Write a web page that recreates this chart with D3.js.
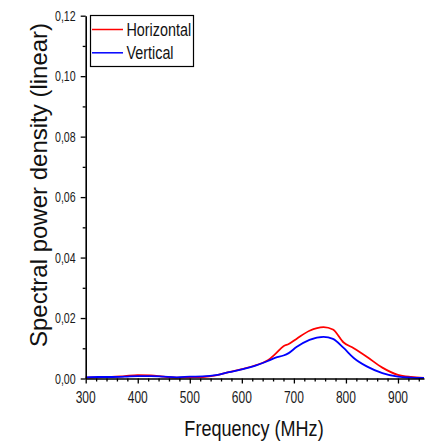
<!DOCTYPE html>
<html>
<head>
<meta charset="utf-8">
<script src="https://cdn.jsdelivr.net/npm/d3@7"></script>
<style>
  html, body { margin: 0; padding: 0; background: #fff; }
  svg { display: block; }
</style>
</head>
<body>
<svg id="chart" width="427" height="442"></svg>
<script>
// ---- data ----
const freq = [300, 325, 350, 375, 400, 425, 450, 475, 500, 525, 550, 575, 600, 625, 650, 665, 680, 690, 705, 730, 757, 775, 795, 815, 840, 870, 900, 925, 950];
const horizontal = [0.0003, 0.0004, 0.0005, 0.0008, 0.0011, 0.0010, 0.0006, 0.0003, 0.0004, 0.0005, 0.0010, 0.0021, 0.0031, 0.0043, 0.0060, 0.0082, 0.0107, 0.0114, 0.0131, 0.0158, 0.0170, 0.0162, 0.0120, 0.0100, 0.0072, 0.0036, 0.0012, 0.0005, 0.0002];
const vertical = [0.0004, 0.0005, 0.0005, 0.0006, 0.0008, 0.0008, 0.0006, 0.0004, 0.0006, 0.0007, 0.0011, 0.0021, 0.0030, 0.0042, 0.0058, 0.0069, 0.0076, 0.0084, 0.0104, 0.0128, 0.0138, 0.0131, 0.0102, 0.0068, 0.0040, 0.0018, 0.0006, 0.0003, 0.0002];
const seriesNames = ["Horizontal", "Vertical"];
const seriesColors = ["#ff0000", "#0000ff"];
const xTicks = [300, 400, 500, 600, 700, 800, 900];
const yTicks = [0, 0.02, 0.04, 0.06, 0.08, 0.10, 0.12];
const xTitle = "Frequency (MHz)";
const yTitle = "Spectral power density (linear)";

const FONT = "'Liberation Sans', Arial, sans-serif";
const svg = d3.select("#chart");
const x = d3.scaleLinear().domain([300, 950]).range([85.7, 424]);
const y = d3.scaleLinear().domain([0, 0.12]).range([378.5, 15.7]);

const fmtY = v => d3.format(".2f")(v).replace(".", ",");

// curves
const series = [horizontal, vertical];
const line = d3.line().x(d => x(d[0])).y(d => y(d[1])).curve(d3.curveMonotoneX);
series.forEach((vals, i) => {
  svg.append("path")
    .datum(freq.map((f, j) => [f, vals[j]]))
    .attr("fill", "none")
    .attr("stroke", seriesColors[i])
    .attr("stroke-width", 1.8)
    .attr("d", line);
});

// y axis (ticks only; labels drawn as condensed text below)
const yAxisG = svg.append("g").attr("transform", `translate(${x(300)},0)`);
yAxisG.call(d3.axisLeft(y).tickValues(yTicks).tickFormat("").tickSize(5).tickSizeOuter(0));
const yMinor = svg.append("g").attr("transform", `translate(${x(300)},0)`);
yMinor.call(d3.axisLeft(y).tickValues(d3.range(0.01, 0.12, 0.02)).tickFormat("").tickSize(3).tickSizeOuter(0));
yMinor.select(".domain").remove();

// x axis
const xAxisG = svg.append("g").attr("transform", `translate(0,${y(0)})`);
xAxisG.call(d3.axisBottom(x).tickValues(xTicks).tickFormat("").tickSize(5).tickSizeOuter(0));
const xMinor = svg.append("g").attr("transform", `translate(0,${y(0)})`);
xMinor.call(d3.axisBottom(x).tickValues(d3.range(320, 951, 20).filter(v => v % 100 !== 0)).tickFormat("").tickSize(3).tickSizeOuter(0));
xMinor.select(".domain").remove();

svg.selectAll(".domain").attr("stroke", "#000").attr("stroke-width", 1.6);
svg.selectAll(".tick line").attr("stroke", "#000").attr("stroke-width", 1.3);

// condensed labels via a horizontal scale transform around each anchor
function condensed(g, px, py, txt, size, k, anchor, fill) {
  return g.append("text")
    .attr("transform", `translate(${px},${py}) scale(${k},1)`)
    .attr("text-anchor", anchor)
    .attr("font-family", FONT)
    .attr("font-size", size)
    .attr("fill", fill)
    .text(txt);
}
const labels = svg.append("g");
yTicks.forEach(v => condensed(labels, x(300) - 10, y(v) + 5, fmtY(v), 14, 0.76, "end", "#1a1a1a"));
xTicks.forEach(v => condensed(labels, x(v), y(0) + 24, String(v), 16, 0.75, "middle", "#1a1a1a"));

// titles
condensed(svg, 254, 436, xTitle, 22, 0.82, "middle", "#111");

svg.append("text")
  .attr("transform", "translate(46.5,185) rotate(-90)")
  .attr("text-anchor", "middle")
  .attr("font-family", FONT)
  .attr("font-size", 24)
  .attr("fill", "#111")
  .text(yTitle);

// legend
const lg = svg.append("g");
lg.append("rect").attr("x", 90.5).attr("y", 15.5).attr("width", 103).attr("height", 51)
  .attr("fill", "#fff").attr("stroke", "#000").attr("stroke-width", 1.2);
seriesNames.forEach((name, i) => {
  const yy = 29.5 + i * 23.3;
  lg.append("line").attr("x1", 92).attr("x2", 123).attr("y1", yy).attr("y2", yy)
    .attr("stroke", seriesColors[i]).attr("stroke-width", 1.5);
  condensed(lg, 126.5, yy + 6.5, name, 17.5, 0.82, "start", "#111");
});
</script>
</body>
</html>
